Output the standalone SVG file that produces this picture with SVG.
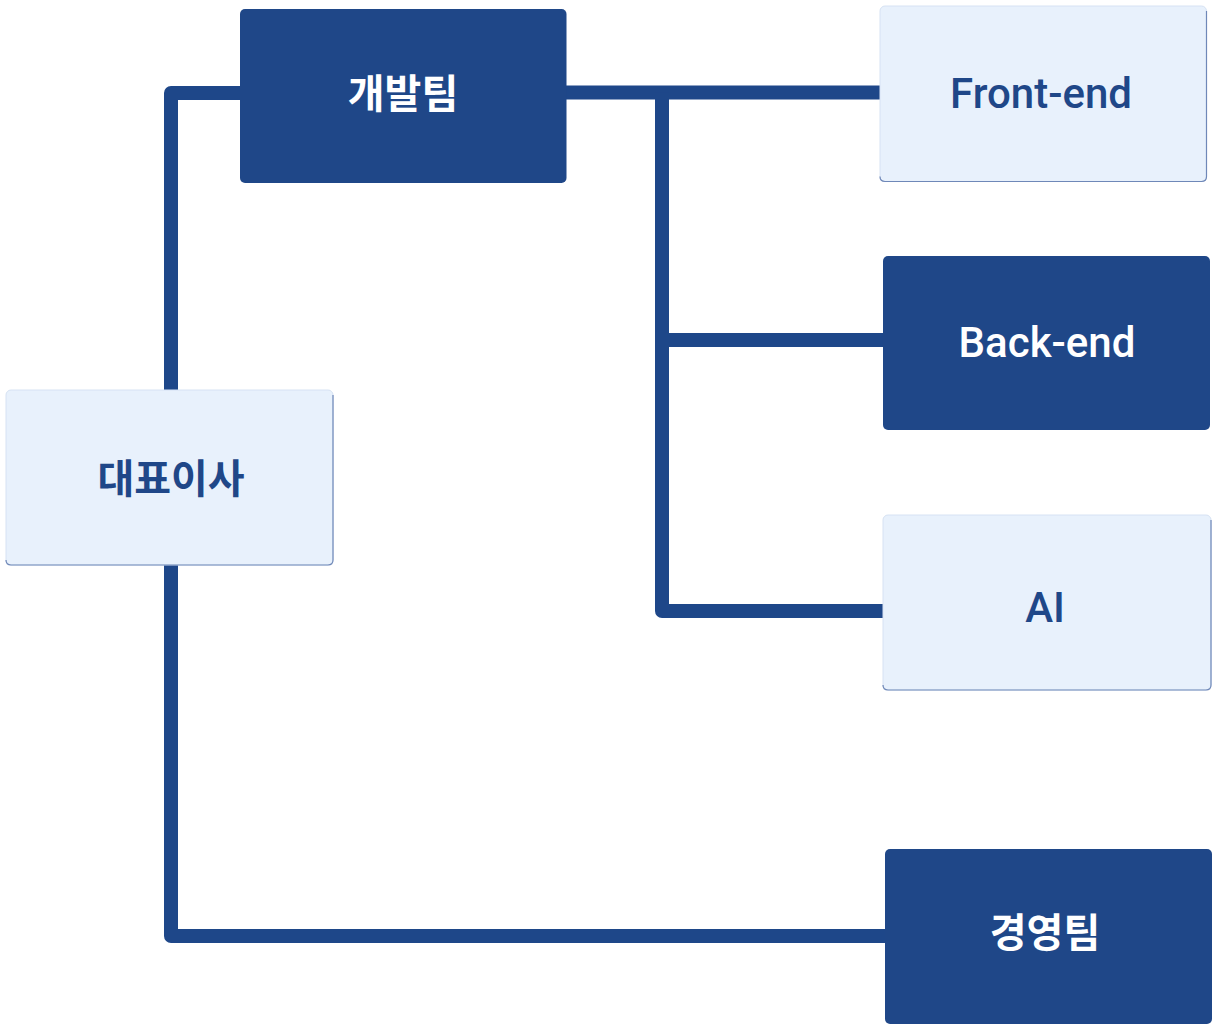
<svg xmlns="http://www.w3.org/2000/svg" width="1222" height="1033" viewBox="0 0 1222 1033">
<style>
.dark{fill:#1F4788;}
.light{fill:#E8F1FC;stroke:#D6E2F3;stroke-width:1;}
.edge{fill:none;stroke:#6F88B8;stroke-width:1.2;}
.kr{font-family:"Noto Sans CJK KR","Noto Sans",sans-serif;font-weight:700;font-size:40px;text-anchor:middle;dominant-baseline:central;}
.en{font-family:Roboto,"Noto Sans",sans-serif;font-weight:500;font-size:42px;text-anchor:middle;dominant-baseline:central;}
.w{fill:#FFFFFF;}
.b{fill:#1F4788;}
.conn{fill:none;stroke:#1E4789;stroke-width:14;stroke-linejoin:round;stroke-linecap:butt;}
</style>
<rect width="1222" height="1033" fill="#FFFFFF"/>
<g id="connectors">
<path class="conn" d="M240 93 H171 V390"/>
<path class="conn" d="M171 565 V936 H885"/>
<path class="conn" d="M566 92.5 H880"/>
<path class="conn" d="M662 92.5 V611 H883"/>
<path class="conn" d="M662 340 H883"/>
</g>
<g id="node-dev">
<rect class="dark" x="240" y="9" width="326.5" height="174" rx="5"/>
<text class="kr w" x="403" y="91">개발팀</text>
</g>
<g id="node-ceo">
<rect class="light" x="6" y="390" width="327" height="175" rx="5"/>
<path class="edge" d="M6 560 Q6 565 11 565 H328 Q333 565 333 560 V395"/>
<text class="kr b" x="171" y="476">대표이사</text>
</g>
<g id="node-frontend">
<rect class="light" x="880" y="6" width="326.5" height="175.5" rx="5"/>
<path class="edge" d="M880 176.5 Q880 181.5 885 181.5 H1201.5 Q1206.5 181.5 1206.5 176.5 V11"/>
<text class="en b" x="1041" y="93">Front-end</text>
</g>
<g id="node-backend">
<rect class="dark" x="883" y="256" width="327" height="174" rx="5"/>
<text class="en w" x="1047" y="342">Back-end</text>
</g>
<g id="node-ai">
<rect class="light" x="883" y="515" width="328" height="175" rx="5"/>
<path class="edge" d="M883 685 Q883 690 888 690 H1206 Q1211 690 1211 685 V520"/>
<text class="en b" x="1045" y="607">AI</text>
</g>
<g id="node-mgmt">
<rect class="dark" x="885" y="849" width="327" height="175" rx="5"/>
<text class="kr w" x="1045" y="930">경영팀</text>
</g>
</svg>
